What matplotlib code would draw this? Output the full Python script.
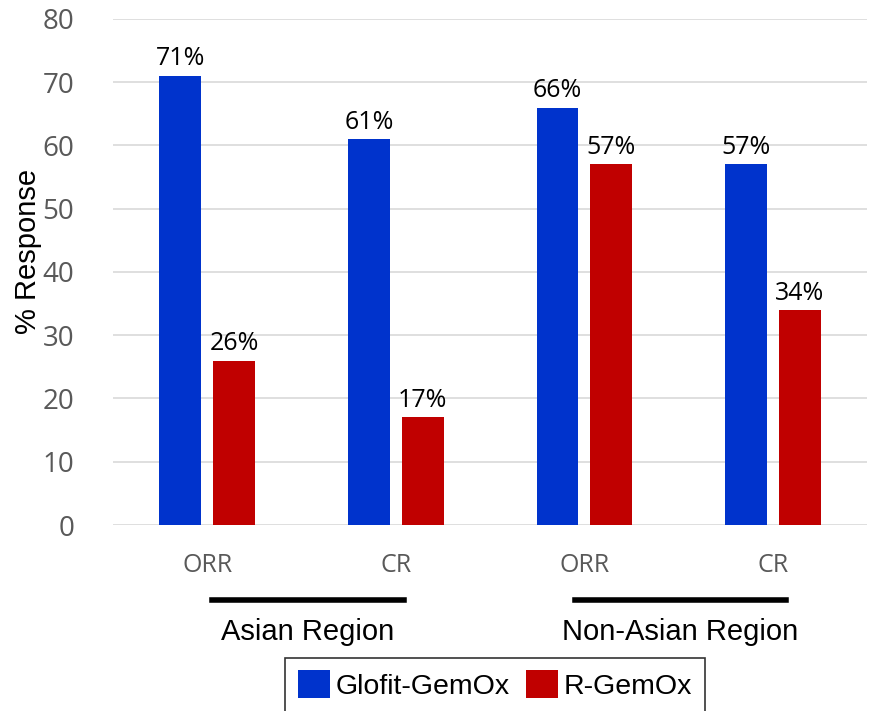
import numpy as np
import matplotlib.pyplot as plt

categories = ["ORR", "CR", "ORR", "CR"]
regions = ["Asian Region", "Non-Asian Region"]
glofit = [71, 61, 66, 57]
rgemox = [26, 17, 57, 34]
yticks = [0, 10, 20, 30, 40, 50, 60, 70, 80]

fig = plt.figure(figsize=(8.69, 7.11), dpi=100)
ax = fig.add_axes([0.130, 0.2616, 0.868, 0.7117])

x = np.arange(len(categories))
w = 0.222
off = 0.143
b1 = ax.bar(x - off, glofit, w, color="#0033CC", label="Glofit-GemOx")
b2 = ax.bar(x + off, rgemox, w, color="#C00000", label="R-GemOx")

for bars, vals in ((b1, glofit), (b2, rgemox)):
    for b, v in zip(bars, vals):
        ax.text(b.get_x() + b.get_width() / 2, v + 0.7, f"{v}%", ha="center", va="bottom",
                fontsize=18, family="Open Sans", color="black")

ax.set_xlim(-0.5, 3.5)
ax.set_ylim(0, 80)
ax.set_yticks(yticks)
ax.set_yticklabels([str(t) for t in yticks], fontsize=20, family="Open Sans", color="#595959")
ax.set_xticks(x)
ax.set_xticklabels(categories, fontsize=18, family="Open Sans", color="#595959")
ax.tick_params(axis="both", length=0)
ax.tick_params(axis="x", pad=20)
ax.tick_params(axis="y", pad=28)
ax.yaxis.grid(True, color="#d9d9d9", linewidth=1.2)
ax.set_axisbelow(True)
for s in ax.spines.values():
    s.set_visible(False)

ax.set_ylabel("% Response", fontsize=21, family="Liberation Sans")
ax.yaxis.set_label_coords(-0.094, 0.54)

# region brackets
for (x0, x1, name) in [(212, 404, regions[0]), (575, 786, regions[1])]:
    fig.add_artist(plt.Line2D([x0 / 869, x1 / 869], [1 - 600 / 711] * 2, color="black", lw=4))
    fig.text((x0 + x1) / 2 / 869, 1 - 632 / 711, name, ha="center", va="center",
             fontsize=21, family="Liberation Sans")

leg = fig.legend(loc="center", bbox_to_anchor=(495 / 869, 1 - 685 / 711), ncol=2,
                 prop={"family": "Liberation Sans", "size": 20.5},
                 frameon=True, fancybox=False, edgecolor="black", handlelength=1.1,
                 handleheight=1.1, handletextpad=0.2, columnspacing=0.6, borderpad=0.45)
leg.get_frame().set_linewidth(1.2)

fig.savefig("out.png", dpi=100)
